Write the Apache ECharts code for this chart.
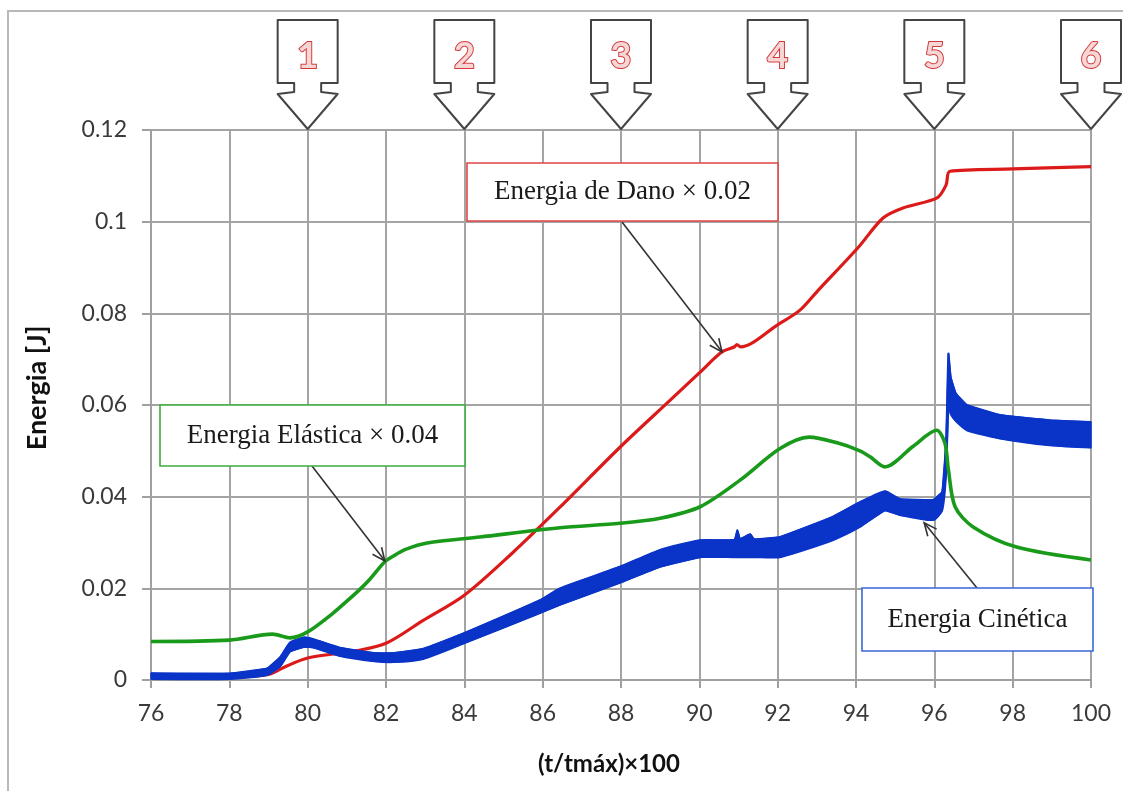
<!DOCTYPE html>
<html>
<head>
<meta charset="utf-8">
<script src="https://cdn.jsdelivr.net/npm/echarts@6/dist/echarts.min.js"></script>
<style>html,body{margin:0;padding:0;background:#fff;}#c{width:1123px;height:791px;}</style>
</head>
<body>
<div id="c"></div>
<script>
// ---- data ----
const xTicks = [76, 78, 80, 82, 84, 86, 88, 90, 92, 94, 96, 98, 100];
const yTicks = [0, 0.02, 0.04, 0.06, 0.08, 0.1, 0.12];

const redX = [76, 78, 79, 79.4, 80, 81.2, 82, 82.95, 84, 85.2, 86.44, 88, 89.25, 90, 90.58, 90.9, 90.96, 91.05, 92, 92.57, 93, 94.05, 94.69, 95.2, 96.07, 96.3, 96.4, 98, 100];
const redY = [0.0005, 0.0006, 0.0012, 0.0028, 0.0048, 0.0063, 0.008, 0.013, 0.0185, 0.0275, 0.0377, 0.051, 0.061, 0.067, 0.0716, 0.0727, 0.0732, 0.0727, 0.0775, 0.0807, 0.0847, 0.0943, 0.1008, 0.103, 0.1052, 0.108, 0.111, 0.1115, 0.112];

const greenX = [76, 78, 79.1, 79.55, 80, 80.65, 81.0, 81.3, 81.6, 81.97, 82.2, 82.5, 83.05, 84.4, 86.44, 87.97, 89, 90.02, 91.04, 92.06, 92.8, 93.5, 94.1, 94.36, 94.74, 95.46, 96.06, 96.27, 96.36, 96.53, 96.99, 98.1, 100];
const greenY = [0.0084, 0.0087, 0.010, 0.0092, 0.0105, 0.0146, 0.0172, 0.0195, 0.0221, 0.0258, 0.0271, 0.0285, 0.0299, 0.0312, 0.0332, 0.0342, 0.0353, 0.0378, 0.0436, 0.0505, 0.053, 0.0518, 0.050, 0.0487, 0.0465, 0.051, 0.0545, 0.0517, 0.0458, 0.0378, 0.0334, 0.029, 0.0262];

const blueX = [76, 78, 78.96, 79.3, 79.55, 79.9, 80.15, 80.8, 81.7, 82.2, 82.95, 84.02, 85.93, 86.44, 87.97, 89, 90.02, 90.9, 90.97, 91.04, 91.3, 91.4, 92.06, 93.4, 94.1, 94.74, 95.12, 95.97, 96.2, 96.3, 96.36, 96.42, 96.55, 96.83, 97.68, 98.95, 100];
const blueLow = [0.0002, 0.0002, 0.0011, 0.003, 0.0062, 0.0072, 0.0071, 0.0053, 0.0041, 0.0039, 0.0046, 0.0081, 0.0146, 0.0164, 0.0212, 0.0247, 0.0268, 0.0268, 0.0268, 0.0268, 0.0268, 0.0268, 0.0268, 0.0305, 0.0334, 0.037, 0.036, 0.0349, 0.037, 0.045, 0.060, 0.058, 0.0565, 0.0545, 0.0527, 0.0512, 0.0507];
const blueHigh = [0.0015, 0.0014, 0.0025, 0.005, 0.0082, 0.0093, 0.0089, 0.0071, 0.0059, 0.0059, 0.0068, 0.0103, 0.0174, 0.0200, 0.0247, 0.0284, 0.0305, 0.0306, 0.0327, 0.0308, 0.0318, 0.0307, 0.0312, 0.0356, 0.0388, 0.0412, 0.0395, 0.0393, 0.041, 0.052, 0.0712, 0.066, 0.0625, 0.060, 0.0578, 0.0567, 0.0563];

const markerX = [80, 84, 88, 92, 96, 100];
const markerLabels = ['1', '2', '3', '4', '5', '6'];

const notes = [
  {text: 'Energia de Dano \u00d7 0.02', color: '#e04545', box: [467, 163, 311, 58], from: [622, 222], tip: [90.58, 0.0716]},
  {text: 'Energia El\u00e1stica \u00d7 0.04', color: '#3cae3c', box: [160, 405, 305, 61], from: [312, 466], tip: [81.97, 0.026]},
  {text: 'Energia Cin\u00e9tica', color: '#3a68d8', box: [862, 588, 231, 63], from: [977, 588], tip: [95.74, 0.0343]}
];

// ---- chart ----
const zip = (a, b) => a.map((v, i) => [v, b[i]]);
const chart = echarts.init(document.getElementById('c'));
const labelFont = {fontFamily: 'Lato, "Open Sans", sans-serif', fontSize: 23, color: '#3a3a3a'};
const BLUE = '#0a34c8';

chart.setOption({
  animation: false,
  backgroundColor: '#fff',
  grid: {left: 151, right: 32, top: 130, bottom: 111, containLabel: false},
  xAxis: {
    type: 'value', min: xTicks[0], max: xTicks[xTicks.length - 1], interval: 2,
    name: '(t/tm\u00e1x)\u00d7100', nameLocation: 'middle', nameGap: 72,
    nameTextStyle: {fontFamily: 'Lato, sans-serif', fontWeight: 'bold', fontSize: 24, color: '#111', padding: [0, 24, 0, 0]},
    axisLine: {show: true, lineStyle: {color: '#a0a0a0', width: 2}},
    axisTick: {show: true, length: 8, lineStyle: {color: '#a0a0a0', width: 2}},
    axisLabel: Object.assign({margin: 22}, labelFont),
    splitLine: {show: true, lineStyle: {color: '#a4a4a4', width: 2}}
  },
  yAxis: {
    type: 'value', min: yTicks[0], max: yTicks[yTicks.length - 1], interval: 0.02,
    name: 'Energia [J]', nameLocation: 'middle', nameGap: 100,
    nameTextStyle: {fontFamily: 'Lato, sans-serif', fontWeight: 'bold', fontSize: 27, color: '#111', padding: [0, 0, 0, 34]},
    axisLine: {show: true, lineStyle: {color: '#a0a0a0', width: 2}},
    axisTick: {show: true, length: 9, lineStyle: {color: '#a0a0a0', width: 2}},
    axisLabel: Object.assign({margin: 24, formatter: v => String(Math.round(v * 100) / 100)}, labelFont),
    splitLine: {show: true, lineStyle: {color: '#a4a4a4', width: 2}}
  },
  series: [
    {name: 'Dano', type: 'line', data: zip(redX, redY), showSymbol: false, smooth: 0.3,
     lineStyle: {color: '#dc1a1a', width: 3.2}, z: 3},
    {name: 'Cin\u00e9tica', type: 'custom', z: 4,
     data: blueX.map((x, i) => [x, blueLow[i], blueHigh[i]]),
     encode: {x: 0, y: [1, 2]},
     renderItem: function (params, api) {
       if (params.dataIndex !== 0) return null;
       const top = [], bot = [];
       for (let i = 0; i < blueX.length; i++) {
         top.push(api.coord([blueX[i], blueHigh[i]]));
         bot.push(api.coord([blueX[i], blueLow[i]]));
       }
       const pts = top.concat(bot.slice().reverse());
       return {type: 'group', children: [
         {type: 'polygon', shape: {points: pts}, style: {fill: BLUE, stroke: BLUE, lineWidth: 1.5, lineJoin: 'round'}},
         {type: 'polyline', shape: {points: top, smooth: 0.2}, style: {fill: null, stroke: BLUE, lineWidth: 2}},
         {type: 'polyline', shape: {points: bot, smooth: 0.2}, style: {fill: null, stroke: BLUE, lineWidth: 2}}
       ]};
     }},
    {name: 'Elastica', type: 'line', data: zip(greenX, greenY), showSymbol: false, smooth: 0.3,
     lineStyle: {color: '#1a9a1a', width: 3.6}, z: 5}
  ]
});

function arrowHead(tx, ty, fx, fy, len, spread) {
  const a = Math.atan2(ty - fy, tx - fx);
  const p1 = [tx - len * Math.cos(a - spread), ty - len * Math.sin(a - spread)];
  const p2 = [tx - len * Math.cos(a + spread), ty - len * Math.sin(a + spread)];
  return [p1, [tx, ty], p2];
}

function drawGraphics() {
  const els = [];
  // outer frame
  els.push({type: 'polyline', shape: {points: [[8, 800], [8, 11], [1130, 11]]},
            style: {stroke: '#b8b8b8', lineWidth: 2, fill: null}, silent: true});
  // block arrows with numbers
  markerX.forEach((mx, i) => {
    const cx = chart.convertToPixel({gridIndex: 0}, [mx, 0])[0];
    const tipY = chart.convertToPixel({gridIndex: 0}, [mx, yTicks[yTicks.length - 1]])[1];
    const hw = 30, nw = 13.5, top = 20, boxB = 83, headT = 94;
    els.push({type: 'polygon', z: 10,
      shape: {points: [[cx - hw, top], [cx + hw, top], [cx + hw, boxB], [cx + nw, boxB], [cx + nw, headT - 2], [cx + hw, headT],
                       [cx, tipY - 1], [cx - hw, headT], [cx - nw, headT - 2], [cx - nw, boxB], [cx - hw, boxB]]},
      style: {fill: '#fff', stroke: '#444', lineWidth: 2, lineJoin: 'round'}});
    els.push({type: 'text', z: 11, x: cx, y: 56,
      style: {text: markerLabels[i], font: 'bold 36px Lato, "Open Sans", sans-serif', fill: '#f7d6d6', stroke: '#d23a3a', lineWidth: 2,
              align: 'center', verticalAlign: 'middle'}});
  });
  // annotation boxes with arrows
  notes.forEach(n => {
    const [bx, by, bw, bh] = n.box;
    const tip = chart.convertToPixel({gridIndex: 0}, n.tip);
    els.push({type: 'line', z: 12, shape: {x1: n.from[0], y1: n.from[1], x2: tip[0], y2: tip[1]},
              style: {stroke: '#333', lineWidth: 1.6}});
    els.push({type: 'polyline', z: 12, shape: {points: arrowHead(tip[0], tip[1], n.from[0], n.from[1], 14, 0.42)},
              style: {stroke: '#333', lineWidth: 1.6, fill: null}});
    els.push({type: 'rect', z: 13, shape: {x: bx, y: by, width: bw, height: bh},
              style: {fill: '#fff', stroke: n.color, lineWidth: 1.6}});
    els.push({type: 'text', z: 14, x: bx + bw / 2, y: by + bh / 2,
              style: {text: n.text, font: '27px "Liberation Serif", "DejaVu Serif", serif', fill: '#1a1a1a',
                      align: 'center', verticalAlign: 'middle'}});
  });
  chart.setOption({graphic: {elements: els}});
}
drawGraphics();
</script>
</body>
</html>
